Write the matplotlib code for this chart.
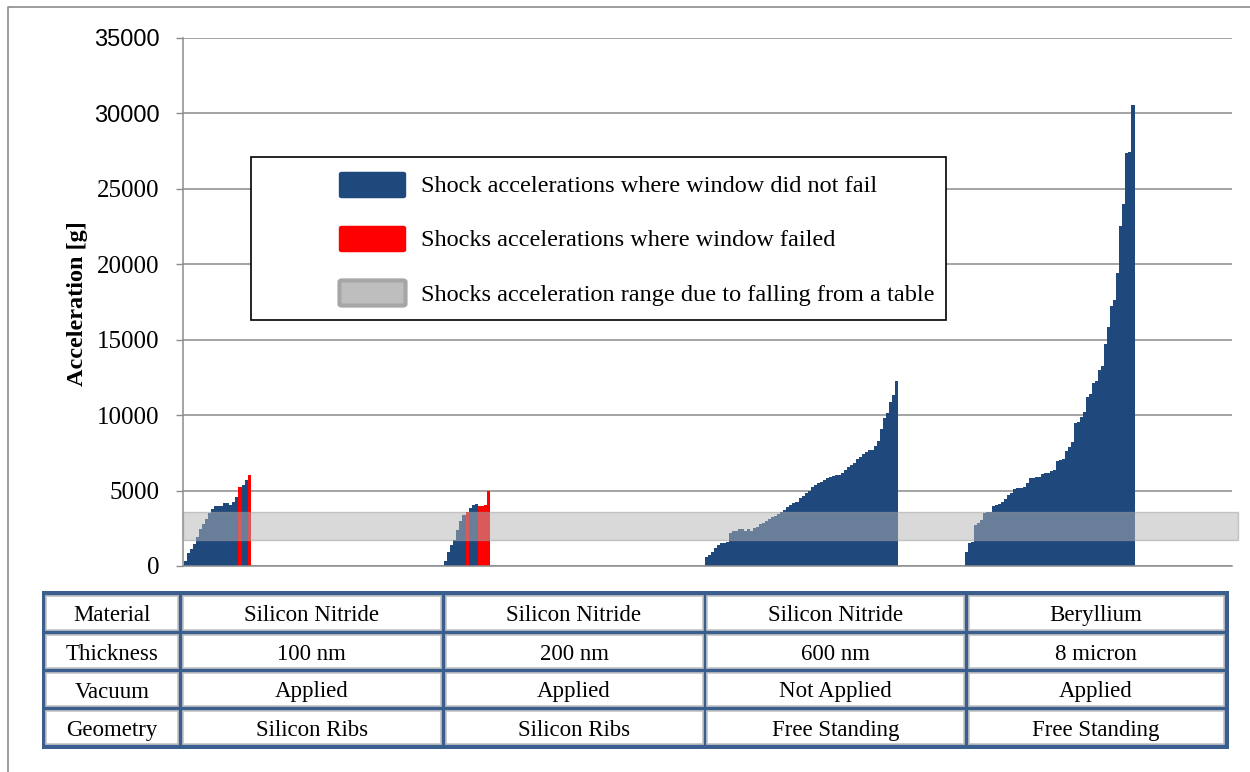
import numpy as np
import matplotlib.pyplot as plt
from matplotlib.patches import Rectangle, FancyBboxPatch
from matplotlib.lines import Line2D

# --- data (acceleration in g, sorted within each test) ---
g1_vals = [350, 850, 1130, 1460, 1940, 2430, 2780, 3090, 3490, 3800, 3980, 3980,
           4000, 4150, 4150, 4050, 4260, 4550, 5260, 5370, 5700, 6030]
g1_fail = [18, 21]

g2_vals = [300, 900, 1400, 1750, 2400, 2950, 3350, 3600, 3820, 4050, 4110,
           3950, 4000, 4050, 4970]
g2_fail = [7, 11, 12, 13, 14]

g3_vals = [575, 700, 950, 1170, 1390, 1540, 1540, 1610, 2170, 2340, 2340, 2430,
           2430, 2340, 2430, 2340, 2500, 2610, 2780, 2870, 3000, 3090, 3230, 3340,
           3450, 3600, 3710, 3930, 4040, 4150, 4260, 4490, 4640, 4820, 4990, 5210,
           5370, 5480, 5590, 5700, 5810, 5880, 5960, 6030, 6030, 6140, 6360, 6540,
           6690, 6850, 7070, 7240, 7420, 7570, 7690, 7690, 7950, 8300, 9060, 9790,
           10160, 10890, 11330, 12280]
g3_fail = []

g4_vals = [950, 1500, 1610, 2700, 2830, 3050, 3490, 3550, 3600, 3980, 4050, 4090,
           4260, 4420, 4710, 4820, 5100, 5150, 5150, 5260, 5520, 5810, 5850, 5880,
           5920, 6100, 6150, 6190, 6300, 6360, 6980, 7000, 7070, 7640, 7860, 8240,
           9450, 9570, 9900, 10230, 11220, 11400, 12150, 12280, 12990, 13250, 14710,
           15820, 17230, 17630, 19440, 22530, 23990, 27400, 27460, 30550]
g4_fail = []

groups = [(g1_vals, g1_fail), (g2_vals, g2_fail), (g3_vals, g3_fail), (g4_vals, g4_fail)]
slots_per_group = 86

table_head = ["Material", "Thickness", "Vacuum", "Geometry"]
table_cols = [
    ["Silicon Nitride", "100 nm", "Applied", "Silicon Ribs"],
    ["Silicon Nitride", "200 nm", "Applied", "Silicon Ribs"],
    ["Silicon Nitride", "600 nm", "Not Applied", "Free Standing"],
    ["Beryllium", "8 micron", "Applied", "Free Standing"],
]

band_low, band_high = 1700, 3600
yticks = np.arange(0, 35001, 5000)

legend_labels = ["Shock accelerations where window did not fail",
                 "Shocks accelerations where window failed",
                 "Shocks acceleration range due to falling from a table"]

blue = "#1F497D"
red = "#FF0000"
grid_c = "#8C8C8C"
tbl_c = "#3A5F8E"

W, H = 1250, 772
fig = plt.figure(figsize=(W / 100, H / 100), dpi=100)
plt.rcParams['font.family'] = ['Liberation Serif', 'DejaVu Serif']


def fx(x):
    return x / W


def fy(y):
    return 1 - y / H


ax = fig.add_axes([fx(183), fy(566), fx(1232) - fx(183), fy(38) - fy(566)])

# bars
for gi, (vals, fail) in enumerate(groups):
    x0 = gi * slots_per_group
    xs = x0 + np.arange(len(vals))
    cols = [red if i in fail else blue for i in range(len(vals))]
    ax.bar(xs, vals, width=1.0, align='edge', color=cols, linewidth=0,
           antialiased=False, zorder=2)

# acceleration range of a drop from a table
ax.axhspan(band_low, band_high, xmin=0, xmax=1.006, facecolor="#b4b4b4",
           edgecolor="#9a9a9a", linewidth=1.0, alpha=0.5, zorder=3, clip_on=False)

ax.set_xlim(-0.33, 346.2)
ax.set_ylim(0, 35000)
ax.set_yticks(yticks)
ax.set_yticklabels([str(v) for v in yticks], fontsize=18)
for lab in ax.get_yticklabels():
    if lab.get_text() in ("30000", "35000"):
        lab.set_fontfamily("Liberation Sans")
        lab.set_fontsize(17)
ax.set_xticks([])
ax.tick_params(axis='y', length=5, width=1, color=grid_c, pad=12)
ax.yaxis.grid(True, color=grid_c, linewidth=1.1, zorder=0)
ax.set_axisbelow(True)
for s in ["top", "right"]:
    ax.spines[s].set_visible(False)
for s in ["left", "bottom"]:
    ax.spines[s].set_color(grid_c)
    ax.spines[s].set_linewidth(1.1)

fig.text(fx(78), fy(304), "Acceleration [g]", rotation=90, ha='center', va='center',
         fontsize=17.5, fontweight='bold')

# legend box drawn by hand to keep its wide left margin
fig.add_artist(Rectangle((fx(251), fy(320)), fx(946) - fx(251), fy(157) - fy(320),
                         transform=fig.transFigure, facecolor='white',
                         edgecolor='black', linewidth=1.2, zorder=5))
leg_y = [185, 239, 293]
leg_face = [blue, red, "#bebebe"]
leg_edge = [blue, red, "#a6a6a6"]
for yy, fc, ec, lab in zip(leg_y, leg_face, leg_edge, legend_labels):
    fig.add_artist(FancyBboxPatch((fx(342), fy(yy + 11)), fx(403) - fx(342),
                                  fy(yy - 11) - fy(yy + 11),
                                  boxstyle="round,pad=0.002", transform=fig.transFigure,
                                  facecolor=fc, edgecolor=ec,
                                  linewidth=3 if fc == "#bebebe" else 1, zorder=6))
    fig.text(fx(421), fy(yy + 2), lab, ha='left', va='center', fontsize=17.5, zorder=6)

# table under the chart
col_x = [44, 180.5, 443, 705, 966, 1226]
row_y = [593.5, 632, 670, 708, 746.5]
fig.add_artist(Rectangle((fx(41.5), fy(749)), fx(1228.5) - fx(41.5), fy(591) - fy(749),
                         transform=fig.transFigure, facecolor=tbl_c, edgecolor=tbl_c,
                         linewidth=0, zorder=5))
for r in range(4):
    for c in range(5):
        x1, x2 = col_x[c] + 2.5, col_x[c + 1] - 2.5
        y1, y2 = row_y[r] + 2.5, row_y[r + 1] - 2.5
        fig.add_artist(Rectangle((fx(x1), fy(y2)), fx(x2) - fx(x1), fy(y1) - fy(y2),
                                 transform=fig.transFigure, facecolor='white',
                                 edgecolor='#c4c4c4', linewidth=1.2, zorder=6))
        txt = table_head[r] if c == 0 else table_cols[c - 1][r]
        fig.text(fx((col_x[c] + col_x[c + 1]) / 2), fy((row_y[r] + row_y[r + 1]) / 2 + 3),
                 txt, ha='center', va='center', fontsize=16.5, zorder=7)

# chart area frame (left and top edges visible)
fig.add_artist(Line2D([fx(8), fx(8), fx(1250)], [fy(772), fy(7), fy(7)],
                      transform=fig.transFigure, color=grid_c, linewidth=1.2))

fig.savefig("out.png", dpi=100)
